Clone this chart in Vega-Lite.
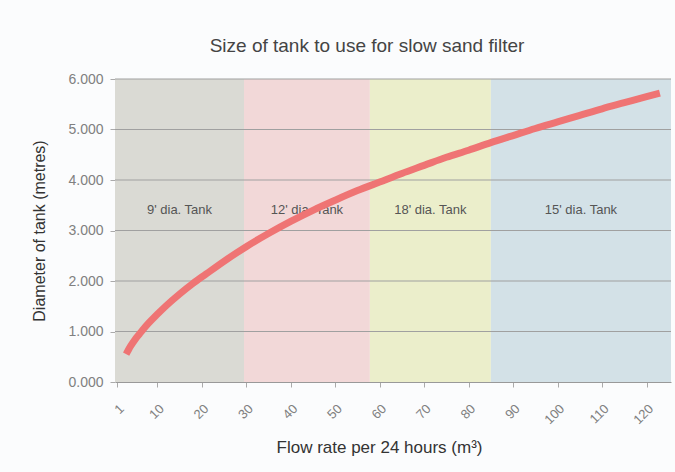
{
  "$schema": "https://vega.github.io/schema/vega-lite/v6.json",
  "width": 556,
  "height": 303,
  "autosize": "none",
  "padding": {"left": 115, "top": 79, "right": 4, "bottom": 90},
  "background": "#fbfcfd",
  "title": {"text": "Size of tank to use for slow sand filter", "fontSize": 19, "fontWeight": "normal", "color": "#444444", "offset": 16, "dx": -26, "anchor": "middle"},
  "datasets": {
    "bands": [
      {"tank": "9' dia. Tank", "start": 0.5, "end": 29.5},
      {"tank": "12' dia. Tank", "start": 29.5, "end": 57.8},
      {"tank": "18' dia. Tank", "start": 57.8, "end": 85},
      {"tank": "15' dia. Tank", "start": 85, "end": 125.5}
    ],
    "grid": [{"v": 1}, {"v": 2}, {"v": 3}, {"v": 4}, {"v": 5}, {"v": 6}],
    "curve": [
      {"flow": 3, "d": 0.55}, {"flow": 4, "d": 0.71}, {"flow": 5, "d": 0.84}, {"flow": 6, "d": 0.95},
      {"flow": 7, "d": 1.06}, {"flow": 8, "d": 1.16}, {"flow": 10, "d": 1.34}, {"flow": 12, "d": 1.51},
      {"flow": 15, "d": 1.74}, {"flow": 18, "d": 1.95}, {"flow": 21, "d": 2.14}, {"flow": 25, "d": 2.39},
      {"flow": 30, "d": 2.68}, {"flow": 35, "d": 2.94}, {"flow": 40, "d": 3.18}, {"flow": 45, "d": 3.4},
      {"flow": 50, "d": 3.6}, {"flow": 55, "d": 3.79}, {"flow": 60, "d": 3.96}, {"flow": 65, "d": 4.13},
      {"flow": 70, "d": 4.29}, {"flow": 75, "d": 4.45}, {"flow": 80, "d": 4.59}, {"flow": 85, "d": 4.74},
      {"flow": 90, "d": 4.88}, {"flow": 95, "d": 5.02}, {"flow": 100, "d": 5.15}, {"flow": 105, "d": 5.28},
      {"flow": 110, "d": 5.41}, {"flow": 115, "d": 5.53}, {"flow": 120, "d": 5.65}, {"flow": 123, "d": 5.72}
    ]
  },
  "layer": [
    {
      "data": {"name": "bands"},
      "mark": {"type": "rect"},
      "encoding": {
        "x": {
          "field": "start", "type": "quantitative",
          "scale": {"domain": [0.5, 125.5], "nice": false, "zero": false},
          "axis": {
            "values": [1, 10, 20, 30, 40, 50, 60, 70, 80, 90, 100, 110, 120],
            "labelAngle": -45, "labelFontSize": 13, "labelColor": "#808080",
            "tickSize": 5, "tickColor": "#aaaaaa", "domainColor": "#999999",
            "labelPadding": 15, "grid": false,
            "title": "Flow rate per 24 hours (m³)", "titleFontSize": 17, "titleFontWeight": "normal",
            "titleColor": "#333333", "titlePadding": 13, "titleX": 264
          }
        },
        "x2": {"field": "end"},
        "color": {
          "field": "tank", "type": "nominal",
          "scale": {"domain": ["9' dia. Tank", "12' dia. Tank", "18' dia. Tank", "15' dia. Tank"], "range": ["#dadad4", "#f2d8d8", "#ebeecb", "#d3e1e7"]},
          "legend": null
        }
      }
    },
    {
      "data": {"name": "grid"},
      "mark": {"type": "rule", "color": "#a0a0a0", "strokeWidth": 1.2},
      "encoding": {"y": {"field": "v", "type": "quantitative"}}
    },
    {
      "data": {"name": "bands"},
      "transform": [{"calculate": "(datum.start + datum.end) / 2", "as": "mid"}],
      "mark": {"type": "text", "fontSize": 13, "color": "#555555"},
      "encoding": {
        "x": {"field": "mid", "type": "quantitative"},
        "y": {"datum": 3.4, "type": "quantitative"},
        "text": {"field": "tank"}
      }
    },
    {
      "data": {"name": "curve"},
      "mark": {"type": "line", "color": "#ef7474", "strokeWidth": 7, "interpolate": "monotone"},
      "encoding": {
        "x": {"field": "flow", "type": "quantitative"},
        "y": {
          "field": "d", "type": "quantitative",
          "scale": {"domain": [0, 6], "nice": false},
          "axis": {
            "values": [0, 1, 2, 3, 4, 5, 6], "format": ".3f", "grid": false, "domain": false,
            "tickSize": 5, "tickColor": "#aaaaaa", "labelFontSize": 14, "labelColor": "#808080", "labelPadding": 7,
            "title": "Diameter of tank (metres)", "titleFontSize": 16, "titleFontWeight": "normal",
            "titleColor": "#333333", "titlePadding": 20
          }
        }
      }
    }
  ],
  "config": {
    "font": "Liberation Sans",
    "view": {"stroke": null}
  }
}
